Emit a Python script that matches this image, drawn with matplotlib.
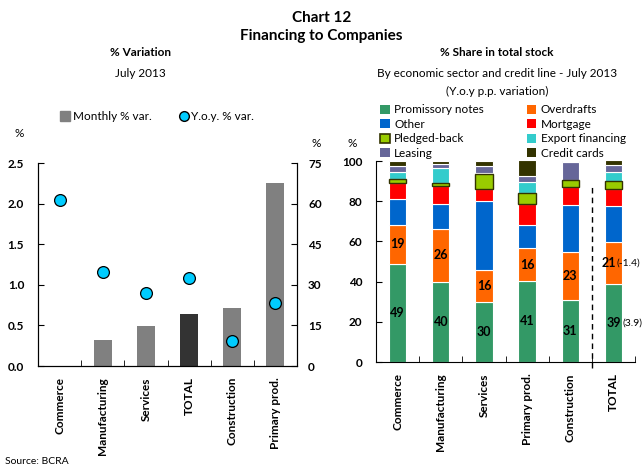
import matplotlib.pyplot as plt
from matplotlib.lines import Line2D
from matplotlib.patches import Patch
import numpy as np

plt.rcParams['font.family'] = ['Lato', 'DejaVu Sans']

# left chart: monthly and y.o.y. variation
sectors_left = ['Commerce', 'Manufacturing', 'Services', 'TOTAL', 'Construction', 'Primary prod.']
monthly_var = [0.0, 0.32, 0.49, 0.64, 0.71, 2.25]
yoy_var = [61.5, 34.8, 27.0, 32.7, 9.3, 23.4]

# right chart: share in total stock by credit line
sectors_right = ['Commerce', 'Manufacturing', 'Services', 'Primary prod.', 'Construction', 'TOTAL']
lines = ['Promissory notes', 'Overdrafts', 'Other', 'Mortgage',
         'Pledged-back', 'Export financing', 'Leasing', 'Credit cards']
promissory = [49, 40, 30, 40.5, 31, 39]
overdrafts = [19, 26, 16, 16, 23.5, 20.5]
other = [13, 12.6, 34, 11.5, 23.5, 18]
mortgage = [8, 8.8, 6, 10.5, 9, 8.5]
pledged = [2, 1.8, 7.5, 5.7, 3.5, 4]
export_fin = [3.5, 7.3, 0.5, 5.3, 0, 4.5]
leasing = [3, 2.1, 3.7, 3, 9, 3.3]
credit_cards = [2.5, 1.5, 2.3, 7.8, 0.5, 2.8]
pn_labels = ['49', '40', '30', '41', '31', '39']
od_labels = ['19', '26', '16', '16', '23', '21']
total_changes = ['(3.9)', '(-1.4)']

colors = ['#339966', '#ff6600', '#0066cc', '#ff0000',
          '#99cc00', '#33cccc', '#666699', '#333300']

fig = plt.figure(figsize=(6.43, 4.69), dpi=100)

fig.text(0.5, 0.962, 'Chart 12', ha='center', va='center', fontsize=11, fontweight='bold')
fig.text(0.5, 0.923, 'Financing to Companies', ha='center', va='center', fontsize=11, fontweight='bold')
fig.text(0.218, 0.887, '% Variation', ha='center', va='center', fontsize=8.5, fontweight='bold')
fig.text(0.218, 0.844, 'July 2013', ha='center', va='center', fontsize=8.5)
fig.text(0.773, 0.887, '% Share in total stock', ha='center', va='center', fontsize=8.5, fontweight='bold')
fig.text(0.773, 0.844, 'By economic sector and credit line - July 2013', ha='center', va='center', fontsize=8.5)
fig.text(0.773, 0.806, '(Y.o.y p.p. variation)', ha='center', va='center', fontsize=8.5)
fig.text(0.008, 0.015, 'Source: BCRA', ha='left', va='center', fontsize=7.5)

# ---- left chart
ax1 = fig.add_axes([0.0591, 0.2196, 0.4028, 0.4328])
x = np.arange(len(sectors_left))
bar_cols = ['#333333' if s == 'TOTAL' else '#808080' for s in sectors_left]
ax1.bar(x, monthly_var, width=0.42, color=bar_cols, zorder=2)
ax1.set_xlim(-0.5, 5.5)
ax1.set_ylim(0, 2.5)
ax1.set_yticks(np.arange(0, 2.51, 0.5))
ax1.set_yticklabels(['%.1f' % v for v in np.arange(0, 2.51, 0.5)], fontweight='bold', fontsize=8.5)
ax1.set_xticks(x)
ax1.set_xticklabels(sectors_left, rotation=90, fontweight='bold', fontsize=8.5)
ax1.set_xticks(np.arange(-0.5, 5.6, 1), minor=True)
ax1.tick_params(axis='x', which='major', length=0, pad=8)
ax1.tick_params(axis='x', which='minor', direction='in', length=4)
ax1.tick_params(axis='y', direction='in', length=4, pad=10)
ax1.spines['top'].set_visible(False)

ax1b = ax1.twinx()
ax1b.plot(x, yoy_var, 'o', color='#00ccff', markeredgecolor='black',
          markersize=8.5, markeredgewidth=0.9, zorder=3)
ax1b.set_ylim(0, 75)
ax1b.set_yticks(np.arange(0, 76, 15))
ax1b.set_yticklabels([str(v) for v in range(0, 76, 15)], fontweight='bold', fontsize=8.5)
ax1b.tick_params(axis='y', direction='in', length=4, pad=8)
ax1b.spines['top'].set_visible(False)

fig.text(0.03, 0.716, '%', ha='center', va='center', fontsize=8.5)
fig.text(0.492, 0.695, '%', ha='center', va='center', fontsize=8.5)

h1 = [Line2D([], [], marker='s', linestyle='none', color='#808080', markersize=7),
      Line2D([], [], marker='o', linestyle='none', color='#00ccff', markeredgecolor='black', markersize=7)]
fig.legend(h1, ['Monthly % var.', 'Y.o.y. % var.'], loc='center', bbox_to_anchor=(0.245, 0.752),
           ncol=2, frameon=False, fontsize=8.5, handlelength=0.8, handletextpad=0.2,
           columnspacing=2.4)

# ---- right chart
ax2 = fig.add_axes([0.5848, 0.2281, 0.4028, 0.4286])
xr = np.arange(len(sectors_right))
series = [promissory, overdrafts, other, mortgage, pledged, export_fin, leasing, credit_cards]
bottom = np.zeros(len(xr))
for name, vals, col in zip(lines, series, colors):
    if name == 'Pledged-back':
        ax2.bar(xr, vals, width=0.4, bottom=bottom, color=col, edgecolor='#333300', linewidth=1.0, zorder=3)
    else:
        ax2.bar(xr, vals, width=0.4, bottom=bottom, color=col, edgecolor='white', linewidth=0.8, zorder=2)
    bottom = bottom + np.array(vals)

last = len(xr) - 1
for i in range(len(xr)):
    ax2.text(xr[i], promissory[i] / 2, pn_labels[i], ha='center', va='center',
             fontsize=9, fontweight='bold', zorder=4)
    dx = -0.1 if i == last else 0
    ax2.text(xr[i] + dx, promissory[i] + overdrafts[i] / 2, od_labels[i], ha='center', va='center',
             fontsize=9, fontweight='bold', zorder=4)
ax2.text(xr[last] + 0.2, promissory[last] / 2, total_changes[0], ha='left', va='center', fontsize=7.5)
ax2.text(xr[last] + 0.08, promissory[last] + overdrafts[last] / 2, total_changes[1],
         ha='left', va='center', fontsize=7.5)

ax2.plot([4.5, 4.5], [-3, 88], color='black', linestyle=(0, (4, 3)), linewidth=1, clip_on=False)

ax2.set_xlim(-0.5, 5.5)
ax2.set_ylim(0, 100)
ax2.set_yticks(range(0, 101, 20))
ax2.set_yticklabels([str(v) for v in range(0, 101, 20)], fontweight='bold', fontsize=8.5)
ax2.set_xticks(xr)
ax2.set_xticklabels(sectors_right, rotation=90, fontweight='bold', fontsize=8.5)
ax2.set_xticks(np.arange(0.5, 5.6, 1), minor=True)
ax2.tick_params(axis='x', which='major', length=0, pad=8)
ax2.tick_params(axis='x', which='minor', direction='in', length=4)
ax2.tick_params(axis='y', direction='in', length=4, pad=10)
ax2.spines['top'].set_visible(False)
ax2.spines['right'].set_visible(False)

fig.text(0.547, 0.695, '%', ha='center', va='center', fontsize=8.5)

h2 = []
for name, col in zip(lines, colors):
    if name == 'Pledged-back':
        h2.append(Patch(facecolor=col, edgecolor='#333300', linewidth=1.2))
    else:
        h2.append(Patch(facecolor=col, edgecolor='none'))
order = [0, 2, 4, 6, 1, 3, 5, 7]
fig.legend([h2[k] for k in order], [lines[k] for k in order], loc='upper left',
           bbox_to_anchor=(0.582, 0.79), ncol=2, frameon=False, fontsize=8.5,
           handlelength=0.8, handleheight=0.8, handletextpad=0.4, columnspacing=3.6,
           labelspacing=0.3, borderpad=0)

fig.savefig('out.png', dpi=100)
